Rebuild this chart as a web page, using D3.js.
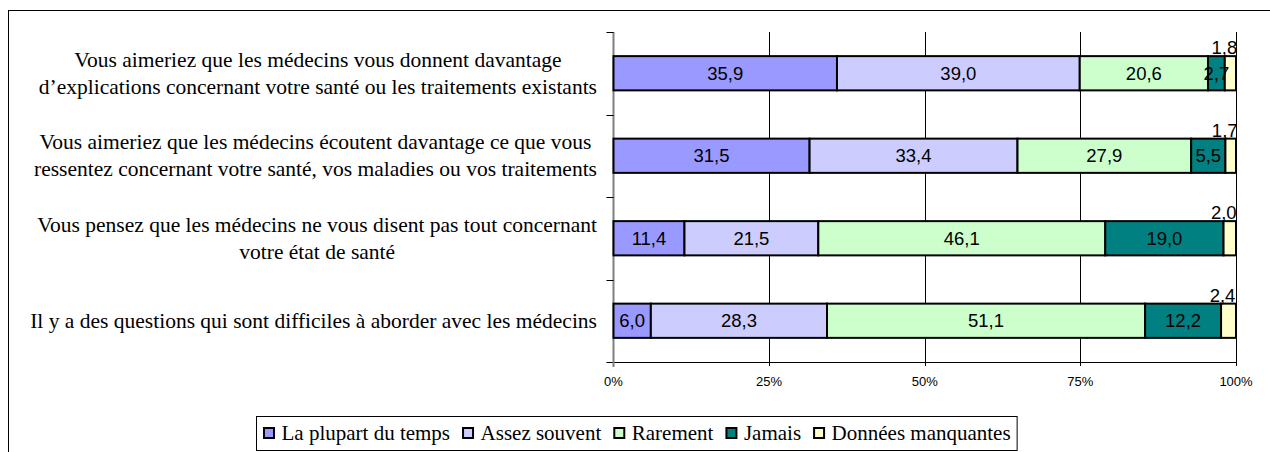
<!DOCTYPE html>
<html>
<head>
<meta charset="utf-8">
<script src="https://cdn.jsdelivr.net/npm/d3@7"></script>
<style>
  html, body { margin: 0; padding: 0; background: #fff; }
  svg { display: block; }
  .serif { font-family: "Liberation Serif", "Times New Roman", "DejaVu Serif", serif; }
  .sans { font-family: "Liberation Sans", Arial, "DejaVu Sans", sans-serif; }
</style>
</head>
<body>
<svg id="chart" width="1270" height="452"></svg>
<script>
// ---- Data ----
const categories = [
  ["Vous aimeriez que les médecins vous donnent davantage", "d\u2019explications concernant votre santé ou les traitements existants"],
  ["Vous aimeriez que les médecins écoutent davantage ce que vous", "ressentez concernant votre santé, vos maladies ou vos traitements"],
  ["Vous pensez que les médecins ne vous disent pas tout concernant", "votre état de santé"],
  ["Il y a des questions qui sont difficiles à aborder avec les médecins"]
];
const seriesNames = ["La plupart du temps", "Assez souvent", "Rarement", "Jamais", "Données manquantes"];
const plupart   = [35.9, 31.5, 11.4, 6.0];
const souvent   = [39.0, 33.4, 21.5, 28.3];
const rarement  = [20.6, 27.9, 46.1, 51.1];
const jamais    = [2.7, 5.5, 19.0, 12.2];
const manquant  = [1.8, 1.7, 2.0, 2.4];
const tickValues = [0, 25, 50, 75, 100];
const tickLabels = ["0%", "25%", "50%", "75%", "100%"];
const colors = ["#9999FF", "#CCCCFF", "#CCFFCC", "#008080", "#FFFFCC"];

const seriesValues = [plupart, souvent, rarement, jamais, manquant];
const rows = categories.map((c, i) => {
  const r = { idx: i };
  seriesNames.forEach((s, j) => r[s] = seriesValues[j][i]);
  return r;
});

const svg = d3.select("#chart");
const plot = { left: 613.5, right: 1236, top: 32, bottom: 362 };

// outer frame
svg.append("rect").attr("x", 8.5).attr("y", 10.5).attr("width", 1400).attr("height", 600)
  .attr("fill", "none").attr("stroke", "#000").attr("stroke-width", 1);

const x = d3.scaleLinear().domain([0, 100]).range([plot.left, plot.right]);
const y = d3.scaleBand().domain(d3.range(categories.length)).range([plot.top, plot.bottom])
  .paddingInner(0.585).paddingOuter(0.2925);

// gridlines
svg.append("g").selectAll("line").data(tickValues.slice(1)).join("line")
  .attr("x1", d => Math.round(x(d)) + 0.5).attr("x2", d => Math.round(x(d)) + 0.5)
  .attr("y1", plot.top).attr("y2", plot.bottom + 4)
  .attr("stroke", "#000").attr("stroke-width", 1);

// horizontal value axis line
svg.append("line").attr("x1", plot.left - 7).attr("x2", x(100))
  .attr("y1", plot.bottom + 0.5).attr("y2", plot.bottom + 0.5)
  .attr("stroke", "#000").attr("stroke-width", 1);

// value tick labels
svg.append("g").selectAll("text").data(tickValues).join("text")
  .attr("class", "sans")
  .attr("x", d => x(d)).attr("y", 386)
  .attr("text-anchor", "middle")
  .attr("font-size", 13)
  .attr("fill", "#000")
  .text((d, i) => tickLabels[i]);

// category axis (gray line + ticks)
svg.append("line").attr("x1", plot.left).attr("x2", plot.left)
  .attr("y1", plot.top).attr("y2", plot.bottom + 5)
  .attr("stroke", "#808080").attr("stroke-width", 2);
const bounds = d3.range(categories.length + 1).map(i => plot.top + i * y.step());
svg.append("g").selectAll("line").data(bounds.slice(0, -1)).join("line")
  .attr("x1", plot.left - 7).attr("x2", plot.left)
  .attr("y1", d => Math.round(d) + 0.5).attr("y2", d => Math.round(d) + 0.5)
  .attr("stroke", "#000").attr("stroke-width", 1);

// stacked bars
const stack = d3.stack().keys(seriesNames)(rows);
const bars = svg.append("g");
stack.forEach((layer, j) => {
  bars.append("g").selectAll("rect").data(layer).join("rect")
    .attr("x", d => x(d[0]))
    .attr("width", d => x(d[1]) - x(d[0]))
    .attr("y", (d, i) => y(i))
    .attr("height", y.bandwidth())
    .attr("fill", colors[j])
    .attr("stroke", "#000").attr("stroke-width", 2);
});

// value labels
stack.forEach((layer, j) => {
  const last = j === seriesNames.length - 1;
  svg.append("g").selectAll("text").data(layer).join("text")
    .attr("class", "sans")
    .attr("x", d => last ? x((d[0] + d[1]) / 2) - 6 : x((d[0] + d[1]) / 2))
    .attr("y", (d, i) => last ? y(i) - 2 : y(i) + y.bandwidth() / 2 + 6.5)
    .attr("text-anchor", "middle")
    .attr("font-size", 18.5)
    .attr("fill", "#000")
    .text(d => d3.format(".1f")(d[1] - d[0]).replace(".", ","));
});

// category labels
const labelRight = 597;
const lineH = 27;
categories.forEach((lines, i) => {
  const g = svg.append("g");
  const cy = y(i) + y.bandwidth() / 2;
  const texts = g.selectAll("text").data(lines).join("text")
    .attr("class", "serif")
    .attr("y", (d, k) => cy + (k - (lines.length - 1) / 2) * lineH + 7)
    .attr("text-anchor", "middle")
    .attr("font-size", 21.5)
    .attr("fill", "#000")
    .text(d => d);
  const maxW = d3.max(texts.nodes(), n => n.getComputedTextLength());
  texts.attr("x", labelRight - maxW / 2);
});

// legend
const lg = svg.append("g");
const lx0 = 256, ly0 = 416, lh = 34;
let cx = lx0 + 8;
seriesNames.forEach((s, j) => {
  lg.append("rect").attr("x", cx).attr("y", ly0 + lh / 2 - 5)
    .attr("width", 10).attr("height", 10)
    .attr("fill", colors[j]).attr("stroke", "#000").attr("stroke-width", 2);
  const t = lg.append("text").attr("class", "serif")
    .attr("x", cx + 17.5).attr("y", ly0 + lh / 2 + 7)
    .attr("font-size", 21).attr("fill", "#000").text(s);
  const w = t.node().getComputedTextLength();
  cx += 17.5 + w + (j < seriesNames.length - 1 ? 13 : 6);
});
lg.insert("rect", ":first-child").attr("x", lx0 + 0.5).attr("y", ly0 + 0.5)
  .attr("width", cx - lx0).attr("height", lh)
  .attr("fill", "#fff").attr("stroke", "#000").attr("stroke-width", 1);
</script>
</body>
</html>
